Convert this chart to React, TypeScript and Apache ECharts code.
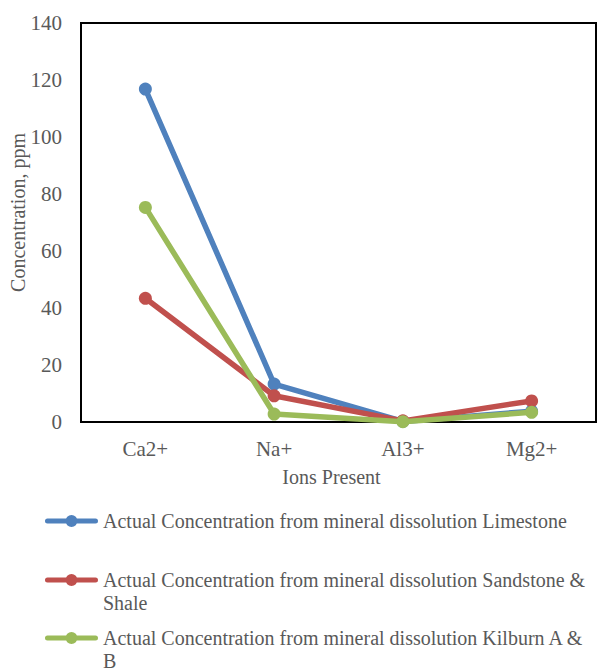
import React, { useEffect, useRef } from "react";
import * as echarts from "echarts";

const categories = ["Ca2+", "Na+", "Al3+", "Mg2+"];
const limestone = [116.8, 13.3, 0.2, 3.8];
const sandstoneShale = [43.4, 9.2, 0.4, 7.4];
const kilburn = [75.3, 2.8, 0.1, 3.4];
const yTicks = { min: 0, max: 140, interval: 20 };

const names = [
  "Actual Concentration from mineral dissolution Limestone",
  "Actual Concentration from mineral dissolution Sandstone & Shale",
  "Actual Concentration from mineral dissolution Kilburn A & B",
];
const colors = ["#4F81BD", "#C0504D", "#9BBB59"];

const FONT = "'Liberation Serif', 'Times New Roman', serif";
const GRAY = "#595959";

// legend icon: line + circle aligned with the first text line (box 53 x h)
const iconPath = (h: number) =>
  `path://M0 0 M53 ${h} M2.5 9 L50.5 9 A2.5 2.5 0 0 1 50.5 14 L2.5 14 A2.5 2.5 0 0 1 2.5 9 Z ` +
  `M20.5 11.5 A6 6 0 1 1 32.5 11.5 A6 6 0 1 1 20.5 11.5 Z`;

export default function App() {
  const ref = useRef<HTMLDivElement>(null);
  useEffect(() => {
    if (!ref.current) return;
    const chart = echarts.init(ref.current, undefined, { renderer: "svg" });
    const datasets = [limestone, sandstoneShale, kilburn];
    const legendBase = (i: number, top: number, h: number) => ({
      show: true,
      orient: "vertical",
      left: 45,
      top,
      padding: 0,
      itemWidth: 53,
      itemHeight: h,
      itemGap: 0,
      icon: iconPath(h),
      data: [{ name: names[i], icon: iconPath(h) }],
      textStyle: {
        fontFamily: FONT,
        fontSize: 20,
        color: GRAY,
        lineHeight: 23,
        width: 490,
        overflow: "break",
      },
      selectedMode: false,
    });
    chart.setOption({
      animation: false,
      backgroundColor: "#ffffff",
      grid: {
        left: 81,
        top: 23,
        right: 1,
        bottom: 246,
        show: true,
        borderColor: "#000000",
        borderWidth: 2,
        containLabel: false,
        outerBoundsMode: "none",
      },
      legend: [
        legendBase(0, 509.5, 23),
        legendBase(1, 568.5, 46),
        legendBase(2, 626.5, 46),
      ],
      xAxis: {
        type: "category",
        data: categories,
        boundaryGap: true,
        axisLine: { show: true, lineStyle: { color: "#000000", width: 2 } },
        axisTick: { show: false },
        axisLabel: { fontFamily: FONT, fontSize: 21, color: GRAY, margin: 16 },
        name: "Ions Present",
        nameLocation: "middle",
        nameGap: 45,
        nameMoveOverlap: false,
        nameTextStyle: { fontFamily: FONT, fontSize: 20, color: GRAY, padding: [0, 14, 0, 0] },
      },
      yAxis: {
        type: "value",
        min: yTicks.min,
        max: yTicks.max,
        interval: yTicks.interval,
        axisLine: { show: true, lineStyle: { color: "#000000", width: 2 } },
        axisTick: { show: false },
        splitLine: { show: false },
        axisLabel: { fontFamily: FONT, fontSize: 21, color: GRAY, margin: 19 },
        name: "Concentration, ppm",
        nameLocation: "middle",
        nameGap: 53,
        nameMoveOverlap: false,
        nameRotate: 90,
        nameTextStyle: { fontFamily: FONT, fontSize: 20, color: GRAY, padding: [0, 0, 0, 20] },
      },
      series: datasets.map((d, i) => ({
        name: names[i],
        type: "line",
        data: d,
        symbol: "circle",
        symbolSize: 13,
        lineStyle: { width: 5.5, color: colors[i] },
        itemStyle: { color: colors[i] },
        color: colors[i],
        z: 2 + i,
      })),
    });
    return () => chart.dispose();
  }, []);
  return (
    <div
      ref={ref}
      style={{ position: "absolute", left: 0, top: 0, width: 597, height: 668 }}
    />
  );
}
